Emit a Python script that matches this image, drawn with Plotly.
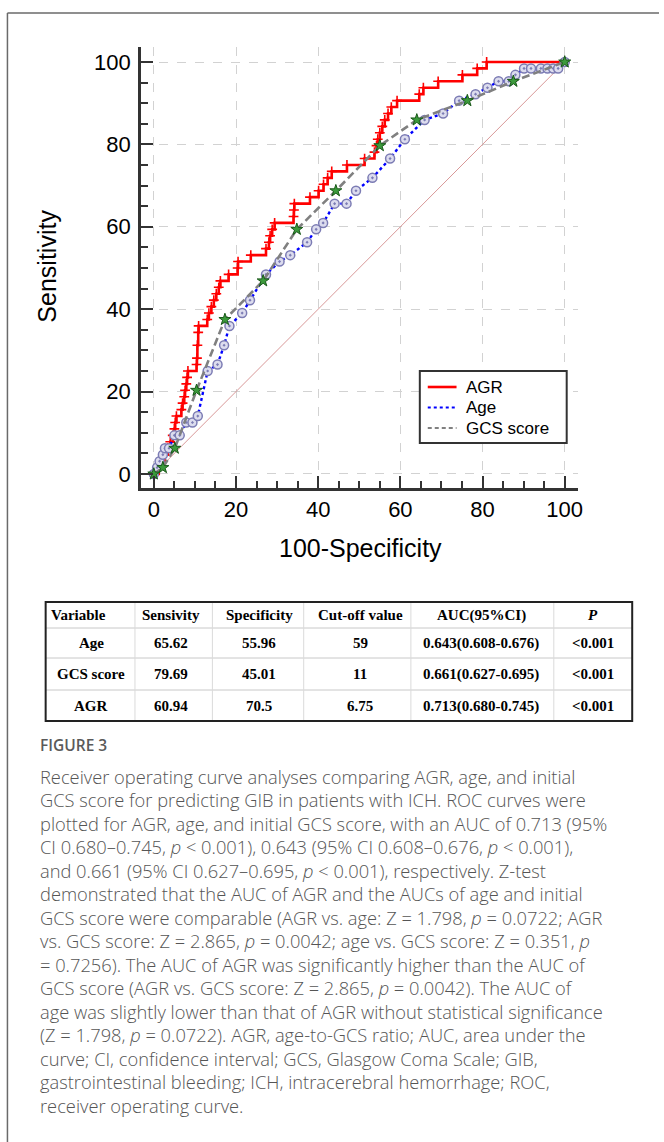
import plotly.graph_objects as go

W, H = 664, 1142

# ---------------- data ----------------
agr_x = [0, 1.2, 2.0, 2.6, 3.4, 4.0, 4.6, 5.0, 5.2, 5.5, 6.7, 7.0, 7.4, 7.6, 7.9, 8.1, 8.3,
         10.4, 10.5, 10.6, 10.8, 10.9, 13.0, 13.4, 14.0, 14.6, 15.2, 15.8, 16.2, 18.2, 20.4, 20.5,
         23.6, 27.3, 28.0, 28.3, 28.8, 29.4, 34.0, 34.1, 34.2, 38.0, 40.1, 41.3, 42.3, 43.3, 47.0,
         51.3, 53.7, 54.2, 54.5, 55.0, 55.6, 56.2, 57.0, 57.8, 59.2, 64.6, 65.6, 69.2, 75.1, 78.7,
         81.0, 100]
agr_y = [0, 1.56, 3.12, 4.69, 6.25, 7.81, 9.38, 10.94, 12.5, 14.06, 15.62, 17.19, 18.75, 20.31, 21.88, 23.44, 25.0,
         26.56, 28.12, 31.25, 34.38, 35.94, 37.5, 39.06, 40.62, 42.19, 43.75, 45.31, 46.88, 48.44, 50.0, 51.56,
         53.12, 54.69, 56.25, 57.81, 59.38, 60.94, 62.5, 64.06, 65.62, 67.19, 68.75, 70.31, 71.88, 73.44, 75.0,
         76.56, 78.12, 79.69, 81.25, 82.81, 84.38, 85.94, 87.5, 89.06, 90.62, 92.19, 93.75, 95.31, 96.88, 98.44,
         100, 100]

age_x = [0, 0.8, 1.4, 2.2, 2.7, 3.7, 5.0, 6.3, 7.9, 9.4, 10.7, 13.1, 15.5, 17.1, 18.4, 21.5, 23.4,
         27.3, 30.6, 33.2, 37.3, 39.5, 41.2, 44.0, 46.9, 49.2, 53.2, 57.5, 61.1, 65.9, 70.4, 74.3,
         78.3, 81.2, 83.9, 86.4, 88.0, 90.1, 91.8, 94.2, 95.8, 97.2, 98.4, 100]
age_y = [0, 1.56, 3.12, 4.69, 6.25, 6.25, 9.38, 9.38, 12.5, 12.5, 14.06, 25.0, 26.56, 31.25, 35.94, 39.06, 42.19,
         48.44, 51.56, 53.12, 56.25, 59.38, 60.94, 65.62, 65.62, 68.75, 71.88, 76.56, 81.25, 85.94, 87.5, 90.62,
         92.19, 93.75, 95.31, 95.31, 96.88, 98.44, 98.44, 98.44, 98.44, 98.44, 98.44, 100]

gcs_x = [0, 2.2, 5.1, 10.4, 17.3, 26.6, 34.8, 44.3, 55.0, 64.0, 76.3, 87.5, 100]
gcs_y = [0, 1.56, 6.25, 20.31, 37.5, 46.88, 59.38, 68.75, 79.69, 85.94, 90.62, 95.31, 100]

ref_x = [0, 100]
ref_y = [0, 100]

axis_ticks = [0, 20, 40, 60, 80, 100]

legend_names = ["AGR", "Age", "GCS score"]

tbl_header = ["Variable", "Sensivity", "Specificity", "Cut-off value", "AUC(95%CI)", "<i>P</i>"]
tbl_var = ["Age", "GCS score", "AGR"]
tbl_sens = ["65.62", "79.69", "60.94"]
tbl_spec = ["55.96", "45.01", "70.5"]
tbl_cut = ["59", "11", "6.75"]
tbl_auc = ["0.643(0.608-0.676)", "0.661(0.627-0.695)", "0.713(0.680-0.745)"]
tbl_p = ["&lt;0.001", "&lt;0.001", "&lt;0.001"]

caption_title = "FIGURE 3"
caption_lines = [
    "Receiver operating curve analyses comparing AGR, age, and initial",
    "GCS score for predicting GIB in patients with ICH. ROC curves were",
    "plotted for AGR, age, and initial GCS score, with an AUC of 0.713 (95%",
    "CI 0.680\u20130.745, <i>p</i> &lt; 0.001), 0.643 (95% CI 0.608\u20130.676, <i>p</i> &lt; 0.001),",
    "and 0.661 (95% CI 0.627\u20130.695, <i>p</i> &lt; 0.001), respectively. Z-test",
    "demonstrated that the AUC of AGR and the AUCs of age and initial",
    "GCS score were comparable (AGR vs. age: Z = 1.798, <i>p</i> = 0.0722; AGR",
    "vs. GCS score: Z = 2.865, <i>p</i> = 0.0042; age vs. GCS score: Z = 0.351, <i>p</i>",
    "= 0.7256). The AUC of AGR was significantly higher than the AUC of",
    "GCS score (AGR vs. GCS score: Z = 2.865, <i>p</i> = 0.0042). The AUC of",
    "age was slightly lower than that of AGR without statistical significance",
    "(Z = 1.798, <i>p</i> = 0.0722). AGR, age-to-GCS ratio; AUC, area under the",
    "curve; CI, confidence interval; GCS, Glasgow Coma Scale; GIB,",
    "gastrointestinal bleeding; ICH, intracerebral hemorrhage; ROC,",
    "receiver operating curve.",
]

# ---------------- helpers (pixel -> paper) ----------------
def px(x):
    return x / W

def py(y):
    return 1 - y / H

fig = go.Figure()

AGR_LINE = dict(color="#ff0000", width=2.6)
AGE_LINE = dict(color="#0000ff", width=2.4, dash="dot")
GCS_LINE = dict(color="#808080", width=2.6, dash="8px,4px")

# reference diagonal
fig.add_trace(go.Scatter(x=ref_x, y=ref_y, mode="lines",
                         line=dict(color="#d89898", width=1), showlegend=False, hoverinfo="skip"))
# AGR
fig.add_trace(go.Scatter(x=agr_x, y=agr_y, mode="lines+markers", line_shape="hv", name=legend_names[0],
                         line=AGR_LINE,
                         marker=dict(symbol="cross-thin", size=7, line=dict(color="#ff0000", width=1.6)),
                         showlegend=False))
# Age
fig.add_trace(go.Scatter(x=age_x, y=age_y, mode="lines+markers", name=legend_names[1],
                         line=AGE_LINE,
                         marker=dict(symbol="circle-dot", size=9, color="#dcdcee",
                                     line=dict(color="#7c7cb4", width=1.5)),
                         showlegend=False))
# GCS
fig.add_trace(go.Scatter(x=gcs_x, y=gcs_y, mode="lines+markers", name=legend_names[2],
                         line=GCS_LINE,
                         marker=dict(symbol="star", size=9, color="#3c9a3c",
                                     line=dict(color="#185818", width=1)),
                         showlegend=False))

axis_common = dict(
    showline=True, linecolor="#333333", linewidth=2.5,
    ticks="inside", ticklen=12, tickwidth=2, tickcolor="#333333",
    showgrid=True, gridcolor="#d2d2d2", griddash="dash", gridwidth=1,
    zeroline=False, tickvals=axis_ticks,
    tickfont=dict(family="Liberation Sans, Arial", size=22, color="#000000"),
    minor=dict(ticks="inside", ticklen=7, tickwidth=1.5, tickcolor="#333333",
               dtick=5, tick0=0, showgrid=False),
)

fig.update_layout(
    width=W, height=H,
    margin=dict(l=0, r=0, t=0, b=0),
    paper_bgcolor="white", plot_bgcolor="white",
    xaxis=dict(domain=[px(142), px(582)], range=[-3.14, 103.14], anchor="y", **axis_common),
    yaxis=dict(domain=[py(488), py(47)], range=[-3.40, 103.64], anchor="x",
               ticklabelstandoff=3, **axis_common),
    showlegend=False,
)

annotations = []
shapes = []

# axis titles
annotations.append(dict(x=px(47), y=py(266), xref="paper", yref="paper", text="Sensitivity",
                        textangle=-90, showarrow=False, xanchor="center", yanchor="middle",
                        font=dict(family="Liberation Sans, Arial", size=25, color="#000000")))
annotations.append(dict(x=px(363), y=py(548), xref="paper", yref="paper", text="100-Specificity",
                        showarrow=False, xanchor="center", yanchor="middle",
                        font=dict(family="Liberation Sans, Arial", size=25, color="#000000")))

# ---------------- legend box (drawn) ----------------
shapes.append(dict(type="rect", xref="paper", yref="paper", x0=px(423), x1=px(571), y0=py(371), y1=py(443),
                   line=dict(color="#333333", width=2), fillcolor="white", layer="above"))
leg_rows = [387, 407.5, 428]
leg_styles = [AGR_LINE, dict(AGE_LINE, width=2), dict(color="#808080", width=2, dash="4px,3px")]
for name, yl, st in zip(legend_names, leg_rows, leg_styles):
    shapes.append(dict(type="line", xref="paper", yref="paper", x0=px(431), x1=px(460), y0=py(yl), y1=py(yl),
                       line=st, layer="above"))
    annotations.append(dict(x=px(468), y=py(yl), xref="paper", yref="paper", text=name, showarrow=False,
                            xanchor="left", yanchor="middle",
                            font=dict(family="Liberation Sans, Arial", size=17, color="#000000")))

# outer frame
shapes.append(dict(type="line", xref="paper", yref="paper", x0=px(7.5), y0=py(13), x1=px(664), y1=py(13),
                   line=dict(color="#6a6a6a", width=1.5)))
shapes.append(dict(type="line", xref="paper", yref="paper", x0=px(7.5), y0=py(13), x1=px(7.5), y1=py(1142),
                   line=dict(color="#6a6a6a", width=1.5)))

# ---------------- table ----------------
t_left, t_right, t_top, t_bot = 46, 637, 602, 721
row_lines = [628, 658, 690]
col_lines = [136, 214, 306, 414, 558]
for yl in row_lines:
    shapes.append(dict(type="line", xref="paper", yref="paper", x0=px(t_left), x1=px(t_right),
                       y0=py(yl), y1=py(yl), line=dict(color="#c8c8c8", width=1)))
for xl in col_lines:
    shapes.append(dict(type="line", xref="paper", yref="paper", x0=px(xl), x1=px(xl),
                       y0=py(t_top), y1=py(t_bot), line=dict(color="#dadada", width=1)))
shapes.append(dict(type="rect", xref="paper", yref="paper", x0=px(t_left), x1=px(t_right),
                   y0=py(t_top), y1=py(t_bot), line=dict(color="#222222", width=2)))

col_centers = [92, 172, 261, 363, 485, 597]
header_y = 615
row_ys = [643, 674, 706]
tfont = dict(family="Liberation Serif, Times New Roman", size=15, color="#000000")
for i, h in enumerate(tbl_header):
    if i == 0:
        annotations.append(dict(x=px(49), y=py(header_y), xref="paper", yref="paper",
                                text="<b>" + h + "</b>", showarrow=False, xanchor="left",
                                yanchor="middle", font=tfont))
    else:
        annotations.append(dict(x=px(col_centers[i]), y=py(header_y), xref="paper", yref="paper",
                                text="<b>" + h + "</b>", showarrow=False, xanchor="center",
                                yanchor="middle", font=tfont))
for r in range(3):
    vals = [tbl_var[r], tbl_sens[r], tbl_spec[r], tbl_cut[r], tbl_auc[r], tbl_p[r]]
    for i, v in enumerate(vals):
        annotations.append(dict(x=px(col_centers[i]), y=py(row_ys[r]), xref="paper", yref="paper",
                                text="<b>" + v + "</b>", showarrow=False, xanchor="center",
                                yanchor="middle", font=tfont))

# ---------------- caption ----------------
annotations.append(dict(x=px(38), y=py(745), xref="paper", yref="paper", text=caption_title,
                        showarrow=False, xanchor="left", yanchor="middle",
                        font=dict(family="Open Sans", size=15.5, weight=600, color="#5a5a5a")))
for k, line in enumerate(caption_lines):
    annotations.append(dict(x=px(38), y=py(776 + 23.5 * k), xref="paper", yref="paper", text=line,
                            showarrow=False, xanchor="left", yanchor="middle",
                            font=dict(family="Open Sans", size=18.3, weight=300, color="#555555")))

fig.update_layout(annotations=annotations, shapes=shapes)

fig.write_html("out.html", config={"displayModeBar": False},
               post_script="document.body.style.margin='0';document.body.style.overflow='hidden';")
